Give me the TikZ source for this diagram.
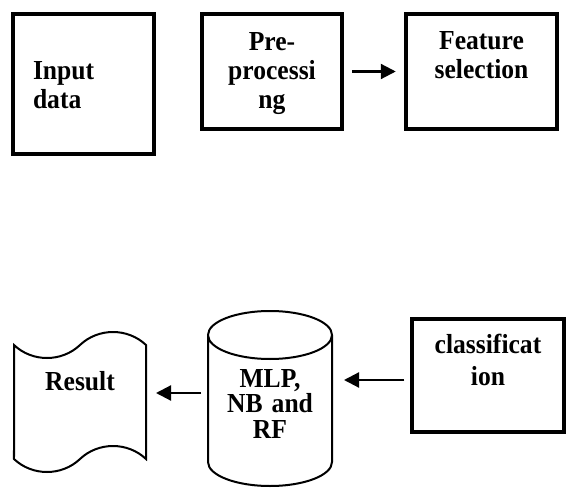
\documentclass[tikz,border=0pt]{standalone}
\usepackage{fontspec}
\setmainfont{Liberation Serif}[FakeStretch=0.93]
\usetikzlibrary{arrows.meta,shapes.geometric,shapes.symbols}
\tikzset{
    stage/.style={draw, line width=3.5pt, inner sep=0pt, align=center,
                  font=\bfseries\fontsize{27.5}{29}\selectfont,
                  text height=18pt},
    flow/.style={-{Triangle[length=15pt, width=15pt]}, line width=2.2pt},
    store/.style={stage, cylinder, shape border rotate=90, aspect=0.48,
                  line width=2pt},
    report/.style={stage, tape, line width=2pt, tape bend height=26pt},
}

\begin{document}
\begin{tikzpicture}[x=1pt, y=-1pt]
    \useasboundingbox (0,0) rectangle (567,489);

    % top row
    \node[stage, align=left, text width=101pt, minimum width=141pt,
          minimum height=140pt, text depth=26pt] (input) at (83.5,84) {Input\\data};
    \node[stage, text width=120pt, minimum width=140pt, minimum height=115pt,
          text depth=59pt] (pre) at (272,71.5) {Pre-\\processi\\ng};
    \node[stage, text width=130pt, minimum width=151pt, minimum height=115pt,
          text depth=61pt] (feature) at (481.5,71.5) {Feature\\selection};
    \draw[flow, shorten <=8.5pt, shorten >=8.5pt] (pre) -- (feature);

    % bottom row
    \node[stage, font=\bfseries\fontsize{27.5}{32}\selectfont, text width=130pt,
          minimum width=152pt, minimum height=113pt, text depth=63pt]
          (classify) at (488,375.5) {classificat\\ion};
    \node[store, font=\bfseries\fontsize{27.5}{25.5}\selectfont, text width=100pt,
          minimum width=124pt, minimum height=175pt, text height=0pt, text depth=48pt,
          anchor=shape center] (model) at (270,398.5) {MLP,\\NB and\\RF};
    \node[report, text width=110pt, minimum width=132pt, minimum height=140pt,
          text depth=41pt] (result) at (80,402) {Result};
    \coordinate (modelout) at ([yshift=5.5pt]model.shape center);

    \draw[flow, shorten <=6pt, shorten >=11pt] ([yshift=-4.5pt]classify.west)
        -- ([yshift=-4.5pt]classify.west -| model.east);
    \draw[flow, shorten <=6pt, shorten >=9pt] (modelout -| model.west)
        -- (modelout -| result.east);
\end{tikzpicture}
\end{document}
